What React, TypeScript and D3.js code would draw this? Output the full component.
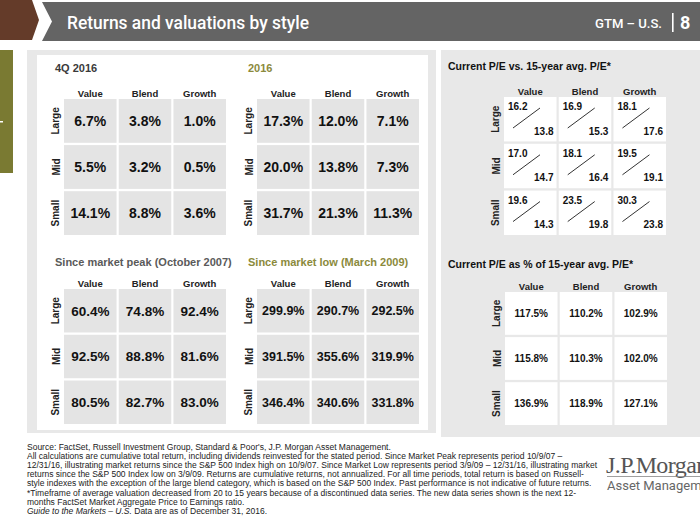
import React from "react";
import * as d3 from "d3";

const styles = ["Value", "Blend", "Growth"];
const sizes = ["Large", "Mid", "Small"];

const q4Returns = [[6.7, 3.8, 1.0], [5.5, 3.2, 0.5], [14.1, 8.8, 3.6]];
const yearReturns = [[17.3, 12.0, 7.1], [20.0, 13.8, 7.3], [31.7, 21.3, 11.3]];
const peakReturns = [[60.4, 74.8, 92.4], [92.5, 88.8, 81.6], [80.5, 82.7, 83.0]];
const lowReturns = [[299.9, 290.7, 292.5], [391.5, 355.6, 319.9], [346.4, 340.6, 331.8]];
const currentPE = [[16.2, 16.9, 18.1], [17.0, 18.1, 19.5], [19.6, 23.5, 30.3]];
const avgPE = [[13.8, 15.3, 17.6], [14.7, 16.4, 19.1], [14.3, 19.8, 23.8]];
const pePct = [[117.5, 110.2, 102.9], [115.8, 110.3, 102.0], [136.9, 118.9, 127.1]];

const footnotes = [
  "Source: FactSet, Russell Investment Group, Standard & Poor's, J.P. Morgan Asset Management.",
  "All calculations are cumulative total return, including dividends reinvested for the stated period. Since Market Peak represents period 10/9/07 \u2013",
  "12/31/16, illustrating market returns since the S&P 500 Index high on 10/9/07. Since Market Low represents period 3/9/09 \u2013 12/31/16, illustrating market",
  "returns since the S&P 500 Index low on 3/9/09. Returns are cumulative returns, not annualized. For all time periods, total return is based on Russell-",
  "style indexes with the exception of the large blend category, which is based on the S&P 500 Index. Past performance is not indicative of future returns.",
  "*Timeframe of average valuation decreased from 20 to 15 years because of a discontinued data series. The new data series shown is the next 12-",
  "months FactSet Market Aggregate Price to Earnings ratio.",
];

const FONT = "'Liberation Sans', Arial, Helvetica, sans-serif";
const fmt1 = d3.format(".1f");

type GridProps = {
  x0: number; x1: number; y0: number; y1: number;
  title: string; titleColor: string; titleX: number; titleY: number; titleSize: number;
  tileFill: string;
  children: (x: d3.ScaleBand<string>, y: d3.ScaleBand<string>) => React.ReactNode;
};

function Grid(p: GridProps) {
  const x = d3.scaleBand<string>().domain(styles).range([p.x0, p.x1]).paddingInner(0.04);
  const y = d3.scaleBand<string>().domain(sizes).range([p.y0, p.y1]).paddingInner(0.05);
  return (
    <g>
      <text x={p.titleX} y={p.titleY} fontSize={p.titleSize} fontWeight="bold" fill={p.titleColor}>{p.title}</text>
      {styles.map((s) => (
        <text key={s} x={(x(s) as number) + x.bandwidth() / 2} y={p.y0 - 2.5} fontSize={9.5} fontWeight="bold" fill="#222" textAnchor="middle">{s}</text>
      ))}
      {sizes.map((r) => {
        const cy = (y(r) as number) + y.bandwidth() / 2;
        const lx = p.x0 - 4.5;
        return (
          <text key={r} x={lx} y={cy} transform={`rotate(-90, ${lx}, ${cy})`} fontSize={10} fontWeight="bold" fill="#222" textAnchor="middle">{r}</text>
        );
      })}
      {sizes.map((r) => styles.map((s) => (
        <rect key={r + s} x={x(s)} y={y(r)} width={x.bandwidth()} height={y.bandwidth()} fill={p.tileFill} />
      )))}
      {p.children(x, y)}
    </g>
  );
}

function ReturnGrid(props: { data: number[][]; fontSize: number } & Omit<GridProps, "children" | "tileFill">) {
  const { data, fontSize, ...rest } = props;
  return (
    <Grid {...rest} tileFill="#e4e4e4">
      {(x, y) => sizes.map((r, i) => styles.map((s, j) => (
        <text key={r + s} x={(x(s) as number) + x.bandwidth() / 2} y={(y(r) as number) + y.bandwidth() / 2} dy="0.36em" textAnchor="middle" fontSize={fontSize} fontWeight="bold" fill="#111">{fmt1(data[i][j]) + "%"}</text>
      )))}
    </Grid>
  );
}

export default function App() {
  return (
    <svg width={700} height={525} style={{ position: "absolute", left: 0, top: 0, background: "#fff" }} fontFamily={FONT}>
      {/* header */}
      <polygon points="0,0 32,0 39,20 32,40 0,40" fill="#643b29" />
      <polygon points="42,2 700,2 700,41 42,41 52,21.5" fill="#646464" />
      <text x={67} y={29} fill="#fff" fontSize={18} fontWeight={500} fontFamily="Roboto, sans-serif" textLength={242} lengthAdjust="spacingAndGlyphs">Returns and valuations by style</text>
      <text x={595} y={28} fill="#fff" fontSize={13.5} fontWeight={500} fontFamily="Roboto, sans-serif" textLength={67} lengthAdjust="spacingAndGlyphs">GTM – U.S.</text>
      <rect x={672} y={13} width={1.6} height={19} fill="#fff" />
      <text x={680} y={29} fill="#fff" fontSize={18} fontWeight="bold" fontFamily="Roboto, sans-serif">8</text>

      {/* side tab */}
      <rect x={0} y={50} width={13} height={123} fill="#7a7a32" />
      <rect x={0} y={121} width={3} height={1.5} fill="#fff" />

      {/* left panel */}
      <rect x={27} y={50} width={409} height={383} fill="#e8e8e8" />
      <rect x={37} y={55} width={391} height={375} fill="#fff" />

      <ReturnGrid data={q4Returns} fontSize={14} x0={64} x1={226} y0={99} y1={235} title="4Q 2016" titleColor="#3a3a3a" titleX={55} titleY={72} titleSize={11} />
      <ReturnGrid data={yearReturns} fontSize={14} x0={257} x1={419} y0={99} y1={235} title="2016" titleColor="#8b8a3c" titleX={248} titleY={72} titleSize={11} />
      <ReturnGrid data={peakReturns} fontSize={13.5} x0={64} x1={226} y0={289} y1={424} title="Since market peak (October 2007)" titleColor="#5a5a5a" titleX={55} titleY={266} titleSize={11} />
      <ReturnGrid data={lowReturns} fontSize={12.5} x0={257} x1={419} y0={289} y1={424} title="Since market low (March 2009)" titleColor="#8b8a3c" titleX={248} titleY={266} titleSize={11} />

      {/* right panel */}
      <rect x={441} y={50} width={259} height={387} fill="#e8e8e8" />

      <Grid x0={504} x1={666} y0={97} y1={235} title="Current P/E vs. 15-year avg. P/E*" titleColor="#111" titleX={448} titleY={70} titleSize={10.5} tileFill="#fff">
        {(x, y) => sizes.map((r, i) => styles.map((s, j) => {
          const cx = x(s) as number;
          const cy = y(r) as number;
          return (
            <g key={r + s}>
              <text x={cx + 4} y={cy + 13} fontSize={10} fontWeight="bold" fill="#111">{fmt1(currentPE[i][j])}</text>
              <line x1={cx + 9} y1={cy + 31} x2={cx + 36} y2={cy + 11} stroke="#333" strokeWidth={1} />
              <text x={cx + x.bandwidth() - 3} y={cy + 37.5} fontSize={10} fontWeight="bold" fill="#111" textAnchor="end">{fmt1(avgPE[i][j])}</text>
            </g>
          );
        }))}
      </Grid>

      <Grid x0={505} x1={667} y0={292} y1={425} title="Current P/E as % of 15-year avg. P/E*" titleColor="#111" titleX={448} titleY={268} titleSize={10.5} tileFill="#fff">
        {(x, y) => sizes.map((r, i) => styles.map((s, j) => (
          <text key={r + s} x={(x(s) as number) + x.bandwidth() / 2} y={(y(r) as number) + y.bandwidth() / 2} dy="0.36em" textAnchor="middle" fontSize={10} fontWeight="bold" fill="#111">{fmt1(pePct[i][j]) + "%"}</text>
        )))}
      </Grid>

      {/* footnotes */}
      {footnotes.map((t, i) => (
        <text key={i} x={27} y={450 + i * 9.1} fontSize={8.5} fill="#222">{t}</text>
      ))}
      <text x={27} y={450 + 7 * 9.1} fontSize={8.5} fill="#222">
        <tspan fontStyle="italic">Guide to the Markets – U.S.</tspan>
        <tspan> Data are as of December 31, 2016.</tspan>
      </text>

      {/* logo */}
      <text x={606} y={473} fontSize={24} fill="#555" fontFamily="'Liberation Serif', 'Times New Roman', serif" letterSpacing={-0.6}>J.P.Morgan</text>
      <rect x={607} y={476} width={93} height={0.8} fill="#888" />
      <text x={607} y={490} fontSize={13} fill="#666" fontFamily="Roboto, sans-serif">Asset Management</text>
    </svg>
  );
}
